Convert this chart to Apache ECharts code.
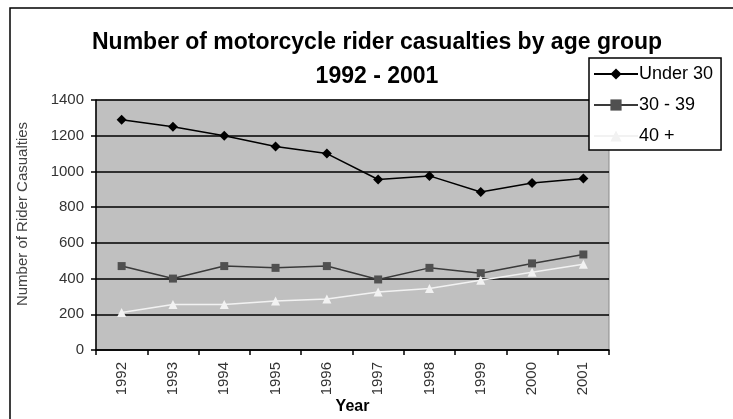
<!DOCTYPE html>
<html>
<head>
<meta charset="utf-8">
<script src="https://cdn.jsdelivr.net/npm/echarts@6/dist/echarts.min.js"></script>
<style>
  html, body { margin: 0; padding: 0; background: #fff; }
  #chart { width: 733px; height: 419px; }
</style>
</head>
<body>
<div id="chart"></div>
<script>
// data
const years = ['1992', '1993', '1994', '1995', '1996', '1997', '1998', '1999', '2000', '2001']
const under30 = [1290, 1250, 1200, 1140, 1100, 955, 975, 885, 935, 960]
const age30to39 = [470, 400, 470, 460, 470, 395, 460, 430, 485, 535]
const age40plus = [210, 255, 255, 275, 285, 325, 345, 390, 435, 480]

const chart = echarts.init(document.getElementById('chart'))

const font = 'Liberation Sans, Arial, sans-serif'

chart.setOption({
  animation: false,
  textStyle: { fontFamily: font },
  title: {
    text: 'Number of motorcycle rider casualties by age group\n1992 - 2001',
    left: 372,
    textAlign: 'center',
    top: 21,
    textStyle: { fontSize: 23, fontWeight: 'bold', color: '#000', lineHeight: 34 }
  },
  // outer chart frame (only top/left edges fall inside the picture)
  graphic: [{
    type: 'rect',
    shape: { x: 10, y: 8, width: 800, height: 500 },
    style: { fill: 'none', stroke: '#000', lineWidth: 1.5 },
    z: 0
  }],
  legend: {
    orient: 'vertical',
    left: 589,
    top: 58,
    width: 133,
    padding: [7, 8, 5, 4],
    itemGap: 13,
    itemWidth: 44,
    itemHeight: 14,
    backgroundColor: '#fff',
    borderColor: '#000',
    borderWidth: 1.5,
    textStyle: { fontSize: 18, color: '#000', padding: [0, 0, 0, -4] },
    z: 10
  },
  grid: {
    left: 96,
    right: 124,
    top: 100,
    bottom: 69,
    outerBoundsMode: 'none',
    show: true,
    backgroundColor: '#c0c0c0',
    borderColor: '#8a8a8a',
    borderWidth: 1
  },
  xAxis: {
    type: 'category',
    data: years,
    boundaryGap: true,
    name: 'Year',
    nameLocation: 'middle',
    nameGap: 49,
    nameMoveOverlap: false,
    nameTextStyle: { fontSize: 16, fontWeight: 'bold', color: '#000' },
    axisLine: { lineStyle: { color: '#000', width: 1.5 } },
    axisTick: { show: true, length: 5, lineStyle: { color: '#000', width: 1.5 } },
    axisLabel: { rotate: 90, fontSize: 15, color: '#333', margin: 12 },
    splitLine: { show: false }
  },
  yAxis: {
    type: 'value',
    min: 0,
    max: 1400,
    interval: 200,
    name: 'Number of Rider Casualties',
    nameLocation: 'middle',
    nameGap: 66,
    nameMoveOverlap: false,
    nameTextStyle: { fontSize: 15, color: '#444', padding: [0, 0, 0, 22] },
    axisLine: { show: true, lineStyle: { color: '#000', width: 1.5 } },
    axisTick: { show: true, length: 5, lineStyle: { color: '#000', width: 1.5 } },
    axisLabel: { fontSize: 15, color: '#333', margin: 12, formatter: v => String(v) },
    splitLine: { lineStyle: { color: '#000', width: 1.5 } }
  },
  series: [
    {
      name: 'Under 30',
      type: 'line',
      data: under30,
      symbol: 'diamond',
      symbolSize: 10,
      lineStyle: { color: '#000', width: 1.5 },
      itemStyle: { color: '#000' }
    },
    {
      name: '30 - 39',
      type: 'line',
      data: age30to39,
      symbol: 'rect',
      symbolSize: 8,
      lineStyle: { color: '#3a3a3a', width: 1.5 },
      itemStyle: { color: '#505050' }
    },
    {
      name: '40 +',
      type: 'line',
      data: age40plus,
      symbol: 'triangle',
      symbolSize: 9,
      lineStyle: { color: '#f2f2f2', width: 1.5 },
      itemStyle: { color: '#f2f2f2' }
    }
  ]
})
</script>
</body>
</html>
